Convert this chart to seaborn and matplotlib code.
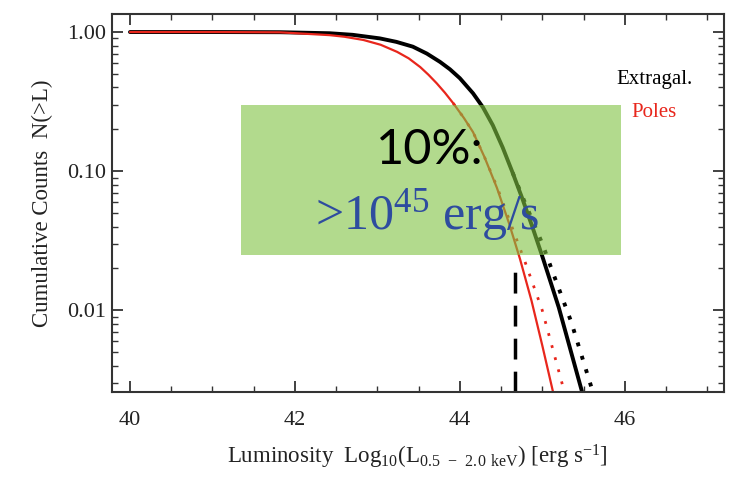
import numpy as np
import pandas as pd
import matplotlib
matplotlib.use("Agg")
import matplotlib.pyplot as plt
import matplotlib.ticker as mticker
import seaborn as sns

# cumulative luminosity functions
lum_extragal = [40.0, 41.0, 41.82, 42.42, 42.7, 43.03, 43.23, 43.43, 43.6, 43.76, 43.88, 44.0,
                44.16, 44.28, 44.4, 44.52, 44.64, 44.76, 44.88, 45.0, 45.2, 45.48]
n_extragal = [1.0, 1.0, 0.997, 0.98, 0.955, 0.90, 0.85, 0.785, 0.70, 0.61, 0.54, 0.466,
              0.363, 0.288, 0.214, 0.148, 0.0977, 0.0631, 0.0398, 0.0245, 0.0105, 0.00263]

lum_poles = [40.0, 41.0, 41.82, 42.42, 42.6, 42.83, 43.04, 43.24, 43.38, 43.52, 43.62, 43.72,
             43.82, 43.92, 44.05, 44.16, 44.3, 44.45, 44.6, 44.73, 44.87, 45.0, 45.13]
n_poles = [1.0, 1.0, 0.995, 0.95, 0.925, 0.877, 0.81, 0.72, 0.647, 0.56, 0.493, 0.428,
           0.366, 0.308, 0.241, 0.191, 0.126, 0.0759, 0.0417, 0.0234, 0.0117, 0.0056, 0.0026]

# dotted versions (split off below the box)
lum_extragal_dot = [44.64, 44.8, 45.0, 45.13, 45.35, 45.6]
n_extragal_dot = [0.0977, 0.0575, 0.0302, 0.0186, 0.0083, 0.00275]
lum_poles_dot = [43.92, 44.05, 44.16, 44.3, 44.45, 44.6, 44.79, 45.0, 45.27]
n_poles_dot = [0.308, 0.241, 0.191, 0.126, 0.0776, 0.0447, 0.0224, 0.01, 0.00257]

# vertical dashed marker
lum_cut = [44.67, 44.67]
n_cut = [0.0026, 0.021]

# highlighted box
box_x = [41.35, 45.95]
box_lo, box_hi = 0.0252, 0.30

xticks = [40, 42, 44, 46]
yticks = [1.0, 0.1, 0.01]
ytick_labels = ["1.00", "0.10", "0.01"]

sns.set_style("ticks")
plt.rcParams["font.family"] = ["Liberation Serif", "DejaVu Serif"]
plt.rcParams["mathtext.default"] = "regular"

fig = plt.figure(figsize=(7.31, 4.79), dpi=100)
ax = fig.add_axes([0.153, 0.182, 0.837, 0.789])
ax.set_yscale("log")

red = "#e8261c"
sns.lineplot(x=lum_extragal, y=n_extragal, color="black", lw=2.8, estimator=None, ax=ax)
sns.lineplot(x=lum_poles, y=n_poles, color=red, lw=1.6, estimator=None, ax=ax)
sns.lineplot(x=lum_extragal_dot, y=n_extragal_dot, color="black", lw=2.8, estimator=None,
             linestyle=(0, (1, 2.6)), ax=ax)
sns.lineplot(x=lum_poles_dot, y=n_poles_dot, color=red, lw=2.0, estimator=None,
             linestyle=(0, (1, 3.5)), ax=ax)
sns.lineplot(x=lum_cut, y=n_cut, color="black", lw=2.5, estimator=None,
             linestyle=(0, (6, 3.5)), ax=ax)

ax.fill_between(box_x, box_lo, box_hi, facecolor="#7fc241", alpha=0.6, lw=0, zorder=5)

ax.text(43.64, 0.143, "10%:", fontsize=35, family=["Lato", "DejaVu Sans"],
        ha="center", va="center", color="black", zorder=6)
ax.text(43.6, 0.0488, ">10$^{45}$ erg/s", fontsize=36, ha="center", va="center",
        color="#2e4c9f", zorder=6)

ax.text(46.36, 0.453, "Extragal.", fontsize=15, ha="center", va="center", color="black")
ax.text(46.36, 0.262, "Poles", fontsize=15, ha="center", va="center", color=red)

ax.set_xlim(39.78, 47.2)
ax.set_ylim(0.0026, 1.35)
ax.set_xticks(xticks)
ax.set_xticklabels([str(t) for t in xticks])
ax.xaxis.set_minor_locator(mticker.MultipleLocator(0.5))
ax.set_yticks(yticks)
ax.set_yticklabels(ytick_labels)
ax.yaxis.set_minor_locator(mticker.LogLocator(base=10, subs=np.arange(2, 10)))
ax.yaxis.set_minor_formatter(mticker.NullFormatter())

ax.tick_params(which="both", direction="in", top=True, right=True, colors="#333333",
               labelcolor="#222222", labelsize=16)
ax.tick_params(which="major", length=8, width=1.3)
ax.tick_params(which="minor", length=4, width=1.0)
ax.tick_params(axis="x", which="major", pad=14)
ax.tick_params(axis="y", which="major", pad=4)
for s in ax.spines.values():
    s.set_linewidth(1.5)
    s.set_color("#333333")

ax.set_xlabel("Luminosity  Log$_{10}$(L$_{0.5\\ -\\ 2.0\\ keV}$) [erg s$^{-1}$]",
              fontsize=16.5, color="#222222", labelpad=9)
ax.set_ylabel("Cumulative Counts  N(>L)", fontsize=16.5, color="#222222", labelpad=10)

fig.savefig("out.png", dpi=100)
